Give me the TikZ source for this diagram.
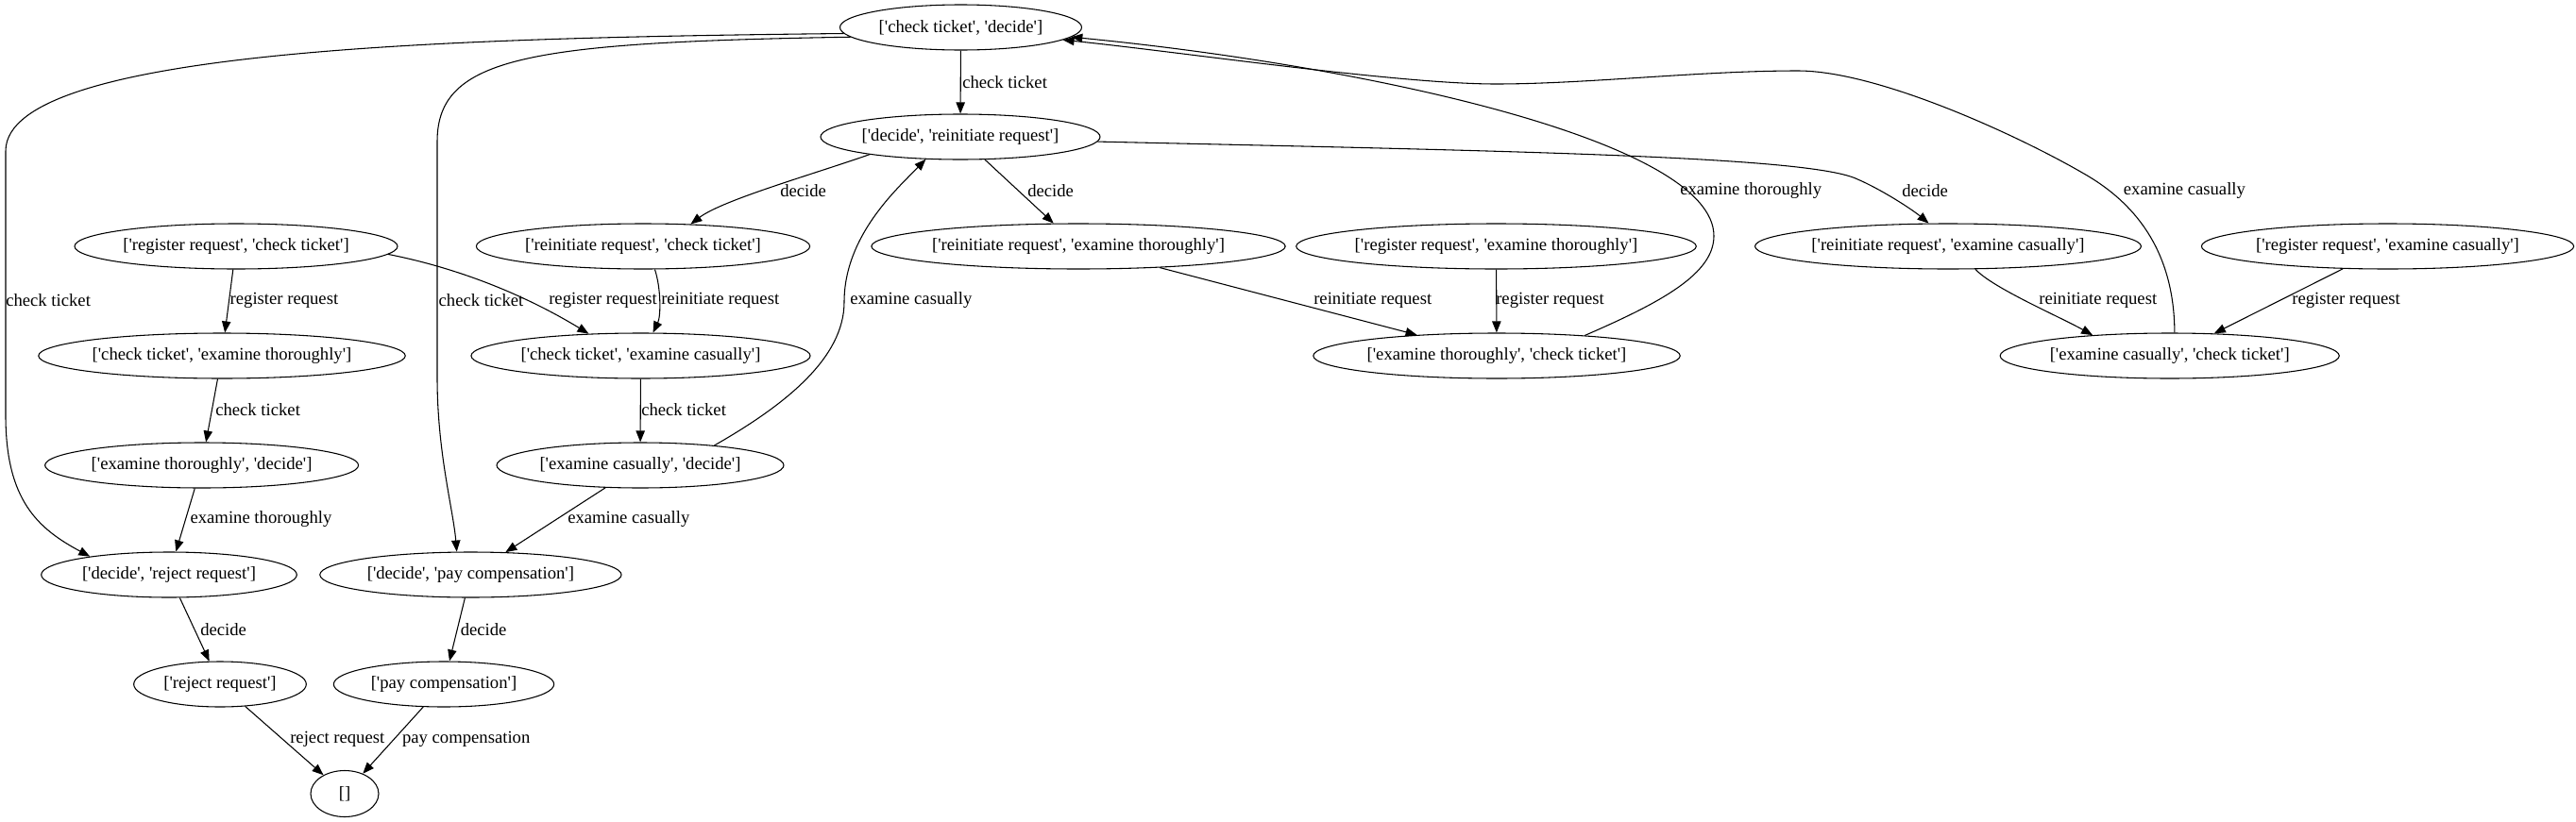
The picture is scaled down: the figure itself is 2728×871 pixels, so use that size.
\documentclass[tikz,border=0pt]{standalone}
\usepackage{fontspec}
\setmainfont{Liberation Serif}
\usetikzlibrary{shapes.geometric,arrows.meta}
\newcommand\sq{\textquotesingle}
\newcommand\pr[2]{[\sq#1\sq, \sq#2\sq]}
\begin{document}
\begin{tikzpicture}[x=0.75pt,y=-0.75pt,
  st/.style={ellipse, draw, line width=0.8pt, inner sep=0pt, minimum height=36pt, font=\fontsize{14pt}{16pt}\selectfont},
  lbl/.style={anchor=west, inner sep=0pt, font=\fontsize{14pt}{16pt}\selectfont},
  e/.style={draw, line width=0.8pt, -{Triangle[length=9pt,width=7pt]}}]
\useasboundingbox (0,0) rectangle (2728,871);
% nodes
\node[st, minimum width=192pt]   (A) at (1017.5,29) {\pr{check ticket}{decide}};
\node[st, minimum width=222pt]   (B) at (1017,145) {\pr{decide}{reinitiate request}};
\node[st, minimum width=256.5pt] (C) at (250,261) {\pr{register request}{check ticket}};
\node[st, minimum width=262.5pt] (D) at (681,261) {\pr{reinitiate request}{check ticket}};
\node[st, minimum width=316.5pt] (E) at (1142,261) {\pr{reinitiate request}{examine thoroughly}};
\node[st, minimum width=310pt]   (F) at (1584.5,261) {\pr{register request}{examine thoroughly}};
\node[st, minimum width=295.5pt] (G) at (2063,261) {\pr{reinitiate request}{examine casually}};
\node[st, minimum width=289.5pt] (H) at (2528.5,261) {\pr{register request}{examine casually}};
\node[st, minimum width=287pt]   (I) at (235,377) {\pr{check ticket}{examine thoroughly}};
\node[st, minimum width=266pt]   (J) at (678.5,377) {\pr{check ticket}{examine casually}};
\node[st, minimum width=288pt]   (K) at (1585,377) {\pr{examine thoroughly}{check ticket}};
\node[st, minimum width=265.5pt] (L) at (2297.7,377) {\pr{examine casually}{check ticket}};
\node[st, minimum width=249pt]   (M) at (213.6,493) {\pr{examine thoroughly}{decide}};
\node[st, minimum width=228pt]   (N) at (678,493) {\pr{examine casually}{decide}};
\node[st, minimum width=203pt]   (O) at (179,609) {\pr{decide}{reject request}};
\node[st, minimum width=239.5pt] (P) at (498.4,609) {\pr{decide}{pay compensation}};
\node[st, minimum width=137pt]   (Q) at (233,725) {[\sq reject request\sq]};
\node[st, minimum width=175pt]   (R) at (470,725) {[\sq pay compensation\sq]};
\node[st, minimum width=54pt, minimum height=36.75pt] (S) at (365,841) {[]};
% edges
\draw[e] (A) -- (B);
\draw[e] (A.183) .. controls (500,40) and (6,50) .. (6,160) -- (6,440) .. controls (6,530) and (40,560) .. (O.167);
\draw[e] (A.185) .. controls (560,45) and (463,60) .. (463,150) -- (463,400) .. controls (463,480) and (480,540) .. (P.121);
\draw[e] (B.191) .. controls (860,185) and (765,212) .. (D.25);
\draw[e] (B) -- (E);
\draw[e] (B.-2) .. controls (1600,160) and (1910,165.6) .. (1965,189) .. controls (1992.6,200.7) and (2025,222) .. (G.130);
\draw[e] (C) -- (I);
\draw[e] (C.-3) .. controls (490,285) and (560,315) .. (J.157);
\draw[e] (D.-63) .. controls (700,305) and (700,335) .. (J.62);
\draw[e] (I) -- (M);
\draw[e] (J) -- (N);
\draw[e] (N.15) .. controls (830,430) and (894,380) .. (894,320) .. controls (894,250) and (950,200) .. (B.213);
\draw[e] (M) -- (O);
\draw[e] (N) -- (P);
\draw[e] (O) -- (Q);
\draw[e] (P) -- (R);
\draw[e] (Q) -- (S);
\draw[e] (R) -- (S);
\draw[e] (E) -- (K);
\draw[e] (F) -- (K);
\draw[e] (K.13) .. controls (1760,320) and (1815,290) .. (1815,250) .. controls (1815,150) and (1450,70) .. (A.-5);
\draw[e] (G.-40) .. controls (2110,305) and (2180,335) .. (L.165);
\draw[e] (H) -- (L);
\draw[e] (L.78) .. controls (2302.6,260) and (2255,213) .. (2212,187) .. controls (2143,146) and (1990,75) .. (1904,75) .. controls (1800,75) and (1680,89) .. (1584,89) .. controls (1480,89) and (1250,55) .. (A.-7);
% labels
\node[lbl] (l1) at (1019,87) {check ticket};
\node[lbl] (l2) at (6,318) {check ticket};
\node[lbl] (l3) at (464.4,318) {check ticket};
\node[lbl] (l4) at (826,202) {decide};
\node[lbl] (l5) at (1088,202) {decide};
\node[lbl] (l6) at (2014,202) {decide};
\node[lbl] (l7) at (243.4,318) {register request};
\node[lbl] (l8) at (581,318) {register request};
\node[lbl] (l9) at (700,318) {reinitiate request};
\node[lbl] (l10) at (228,434) {check ticket};
\node[lbl] (l11) at (679,434) {check ticket};
\node[lbl] (l12) at (900,318) {examine casually};
\node[lbl] (l13) at (201.3,550) {examine thoroughly};
\node[lbl] (l14) at (601,550) {examine casually};
\node[lbl] (l15) at (212,667) {decide};
\node[lbl] (l16) at (487.5,667) {decide};
\node[lbl] (l17) at (307,783) {reject request};
\node[lbl] (l18) at (425.8,783) {pay compensation};
\node[lbl] (l19) at (1391,318) {reinitiate request};
\node[lbl] (l20) at (1584,318) {register request};
\node[lbl] (l21) at (1779,202) {examine thoroughly};
\node[lbl] (l22) at (2159,318) {reinitiate request};
\node[lbl] (l23) at (2427,318) {register request};
\node[lbl] (l24) at (2248.6,202) {examine casually};
\end{tikzpicture}
\end{document}
